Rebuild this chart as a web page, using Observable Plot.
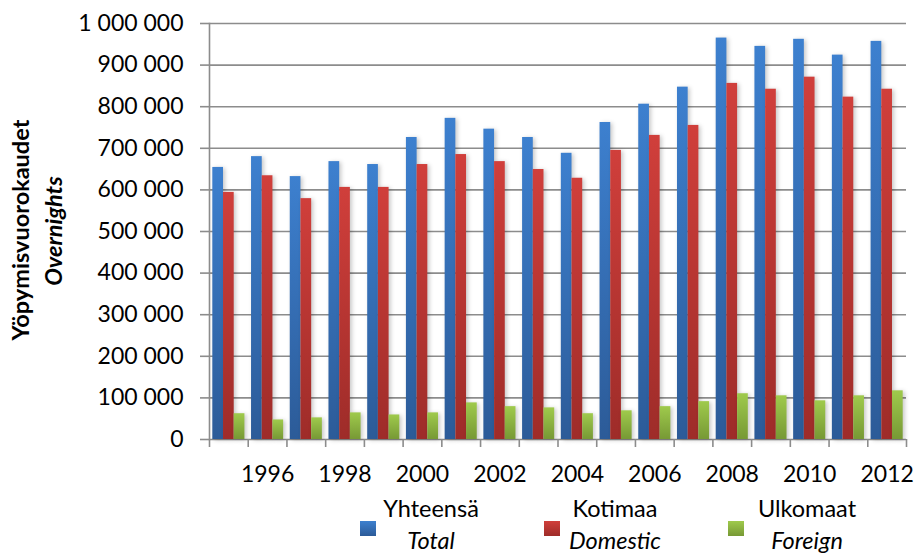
<!DOCTYPE html>
<html><head><meta charset="utf-8">
<script src="https://cdn.jsdelivr.net/npm/d3@7"></script>
<script src="https://cdn.jsdelivr.net/npm/@observablehq/plot@0.6"></script>
<style>
body{margin:0;background:#fff;font-family:Lato,"Open Sans",sans-serif;color:#000}
#wrap{position:relative;width:915px;height:553px;overflow:hidden}
.ytitle{position:absolute;white-space:nowrap;font-weight:bold;font-size:23.5px;line-height:1;transform:translate(-50%,-50%) rotate(-90deg)}
#legend{position:absolute;left:0;top:490px;width:915px;height:63px}
.item{position:absolute;top:0;width:184px;height:63px}
.sw{position:absolute;left:0;top:31px;width:16px;height:15px}
.lt{position:absolute;top:2px;width:120px;text-align:center;font-size:23.5px;line-height:32px;white-space:nowrap}
.lt i{font-style:italic}
</style>
</head><body>
<div id="wrap">
  <div id="chart"></div>
  <div class="ytitle" style="left:21px;top:230px">Yöpymisvuorokaudet</div>
  <div class="ytitle" style="left:54px;top:231px;font-style:italic">Overnights</div>
  <div id="legend"></div>
</div>
<script>
// ---- data ----
const years = [1995,1996,1997,1998,1999,2000,2001,2002,2003,2004,2005,2006,2007,2008,2009,2010,2011,2012];
const total    = [654000,680000,632000,668000,661000,726000,772000,746000,726000,688000,762000,806000,847000,965000,945000,962000,924000,957000];
const domestic = [594000,634000,579000,606000,606000,661000,685000,668000,649000,628000,695000,731000,755000,856000,842000,871000,823000,842000];
const foreign  = [62000,47000,52000,64000,59000,64000,88000,79000,76000,62000,69000,79000,91000,110000,105000,93000,105000,117000];
const yTicks = [0,100000,200000,300000,400000,500000,600000,700000,800000,900000,1000000];
const xLabels = [1996,1998,2000,2002,2004,2006,2008,2010,2012];
const seriesFi = ["Yhteensä","Kotimaa","Ulkomaat"];
const seriesEn = ["Total","Domestic","Foreign"];

// ---- styles ----
const grads = [
  {id:"gBlue", top:"#3d80cf", bottom:"#2c5b98", base:"#3a7dcb"},
  {id:"gRed", top:"#d03f3b", bottom:"#9e2c29", base:"#cc3b37"},
  {id:"gGreen", top:"#9fca4c", bottom:"#779935", base:"#9bc64a"}
];
const W = 915, H = 490, mL = 209, mR = 9, mT = 23, mB = 51;
const bw = (W - mL - mR) / years.length;
const barW = 10.7;
const gap = (bw - 3 * barW) / 2;
const grid = "#8c8c8c";

const fmt = d3.formatLocale({thousands:"\u00a0", grouping:[3], decimal:","}).format(",d");

const seriesVals = [total, domestic, foreign];
const rows = seriesVals.map((vals, s) => years.map((y, i) => ({year: y, value: vals[i], s})));

const barMarks = rows.map((data, s) => Plot.barY(data, {
  x: "year", y: "value", fill: grads[s].base,
  insetLeft: gap + s * barW, insetRight: bw - gap - (s + 1) * barW
}));

const chart = Plot.plot({
  width: W, height: H,
  marginLeft: mL, marginRight: mR, marginTop: mT, marginBottom: mB,
  style: {fontFamily: "Lato, 'Open Sans', sans-serif", background: "#fff", color: "#000"},
  x: {type: "band", domain: years, padding: 0, round: false, label: null},
  y: {domain: [0, 1000000], label: null},
  marks: [
    Plot.ruleY(yTicks, {stroke: grid, strokeWidth: 1.6}),
    Plot.frame({anchor: "left", stroke: grid, strokeWidth: 1.6}),
    ...barMarks,
    Plot.axisY({ticks: yTicks, tickSize: 9, tickPadding: 17, tickFormat: fmt, fontSize: 23, stroke: grid, strokeWidth: 1.6, fill: "#000", label: null}),
    Plot.axisX({ticks: years, tickSize: 8, tickFormat: () => "", stroke: grid, strokeWidth: 1.6, dx: -bw / 2, label: null}),
    Plot.axisX({ticks: [years[years.length - 1]], tickSize: 8, tickFormat: () => "", stroke: grid, strokeWidth: 1.6, dx: bw / 2, label: null}),
    Plot.axisX({ticks: xLabels, tickSize: 0, tickPadding: 26, tickFormat: d => String(d), fontSize: 23, fill: "#000", label: null})
  ]
});

// gradients
const ns = "http://www.w3.org/2000/svg";
const defs = document.createElementNS(ns, "defs");
grads.forEach(g => {
  const lg = document.createElementNS(ns, "linearGradient");
  lg.setAttribute("id", g.id);
  lg.setAttribute("x1", "0"); lg.setAttribute("y1", "0");
  lg.setAttribute("x2", "0"); lg.setAttribute("y2", "1");
  [[0, g.top], [1, g.bottom]].forEach(([o, c]) => {
    const st = document.createElementNS(ns, "stop");
    st.setAttribute("offset", o); st.setAttribute("stop-color", c);
    lg.appendChild(st);
  });
  defs.appendChild(lg);
});
chart.insertBefore(defs, chart.firstChild);
chart.querySelectorAll("g[aria-label='bar']").forEach(g => {
  const f = (g.getAttribute("fill") || "").toLowerCase();
  const gr = grads.find(d => d.base === f);
  if (gr) {
    g.setAttribute("fill", `url(#${gr.id})`);
    g.style.filter = "drop-shadow(2px 1px 2px rgba(0,0,0,0.22))";
  }
});
document.getElementById("chart").appendChild(chart);

// legend
const legend = document.getElementById("legend");
const itemLeft = [360, 544, 728];
const textCenter = [71, 71, 79];
seriesFi.forEach((name, s) => {
  const it = document.createElement("div");
  it.className = "item";
  it.style.left = itemLeft[s] + "px";
  it.innerHTML = `<div class="sw" style="background:linear-gradient(${grads[s].top},${grads[s].bottom})"></div>` +
    `<div class="lt" style="left:${textCenter[s] - 60}px">${name}<br><i>${seriesEn[s]}</i></div>`;
  legend.appendChild(it);
});
</script>
</body></html>
